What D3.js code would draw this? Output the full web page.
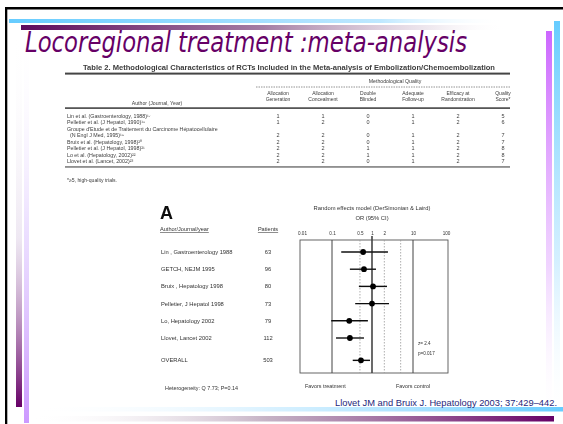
<!DOCTYPE html>
<html><head><meta charset="utf-8">
<script src="https://cdn.jsdelivr.net/npm/d3@7"></script>
<style>html,body{margin:0;padding:0;background:#fff;overflow:hidden}</style>
</head><body>
<script>
// ---------- slide text ----------
const slideTitle = "Locoregional treatment :meta-analysis";
const citation = "Llovet JM and Bruix J. Hepatology 2003; 37:429\u2013442.";

// ---------- methodological quality table ----------
const tableTitle = "Table 2. Methodological Characteristics of RCTs Included in the Meta-analysis of Embolization/Chemoembolization";
const qualityGroup = "Methodological Quality";
const qualityColumns = [["Allocation", "Generation"], ["Allocation", "Concealment"], ["Double", "Blinded"],
  ["Adequate", "Follow-up"], ["Efficacy at", "Randomization"], ["Quality", "Score*"]];
const tableAuthors = [
  ["Lin et al. (Gastroenterology, 1988)\u00b9\u2077"],
  ["Pelletier et al. (J Hepatol, 1990)\u00b9\u2078"],
  ["Groupe d'Etude et de Traitement du Carcinome H\u00e9patocellulaire", "(N Engl J Med, 1995)\u00b9\u2079"],
  ["Bruix et al. (Hepatology, 1998)\u00b2\u2070"],
  ["Pelletier et al. (J Hepatol, 1998)\u00b2\u00b9"],
  ["Lo et al. (Hepatology, 2002)\u00b2\u00b2"],
  ["Llovet et al. (Lancet, 2002)\u00b2\u00b3"]
];
const allocationGeneration = [1, 1, 2, 2, 2, 2, 2];
const allocationConcealment = [1, 2, 2, 2, 2, 2, 2];
const doubleBlinded = [0, 0, 0, 0, 1, 1, 0];
const adequateFollowUp = [1, 1, 1, 1, 1, 1, 1];
const efficacyAtRandomization = [2, 2, 2, 2, 2, 2, 2];
const qualityScore = [5, 6, 7, 7, 8, 8, 7];
const tableFootnote = "*\u22655, high-quality trials.";

// ---------- forest plot ----------
const studies = ["Lin , Gastroenterology 1988", "GETCH, NEJM 1995", "Bruix , Hepatology 1998",
  "Pelletier, J Hepatol 1998", "Lo, Hepatology 2002", "Llovet, Lancet 2002", "OVERALL"];
const patients = [63, 96, 80, 73, 79, 112, 503];
const oddsRatio = [0.60, 0.63, 1.06, 1.00, 0.27, 0.28, 0.53];
const ciLow = [0.17, 0.28, 0.47, 0.38, 0.094, 0.126, 0.33];
const ciHigh = [2.45, 1.25, 2.32, 2.6, 0.79, 0.63, 0.89];
const orTicks = [0.01, 0.1, 0.5, 1, 2, 10, 100];
const solidRefs = [0.1, 1, 10];
const dashedRefs = [0.5, 2, 5];
const modelTitle = ["Random effects model (DerSimonian & Laird)", "OR (95% CI)"];
const testStats = ["z= 2.4", "p=0.017"];
const favours = ["Favors treatment", "Favors control"];
const heterogeneity = "Heterogeneity: Q 7.73; P=0.14";

const W = 563, H = 424;
const svg = d3.select("body").append("svg").attr("width", W).attr("height", H)
  .style("display", "block").style("background", "#fff");
const defs = svg.append("defs");

function grad(id, x2, y2, stops) {
  const g = defs.append("linearGradient").attr("id", id)
    .attr("x1", 0).attr("y1", 0).attr("x2", x2).attr("y2", y2);
  stops.forEach(([o, c, a]) => g.append("stop").attr("offset", o).attr("stop-color", c).attr("stop-opacity", a));
}
grad("gTopBlue", 1, 0, [[0, "#66ccff", 1], [0.75, "#aee2ff", 0.8], [1, "#ffffff", 0]]);
grad("gTopPurple", 1, 0, [[0, "#5c0a5c", 1], [0.5, "#9a6f9a", 0.9], [0.85, "#e6dce6", 0.6], [1, "#ffffff", 0]]);
grad("gBotBlue", 1, 0, [[0, "#ffffff", 0], [0.45, "#bfe8ff", 0.6], [1, "#66ccff", 1]]);
grad("gBotPurple", 1, 0, [[0, "#ffffff", 0], [0.45, "#b7a0b7", 0.8], [1, "#660066", 1]]);
grad("gRightViolet", 0, 1, [[0, "#cc66ff", 1], [0.6, "#e6b8ff", 0.6], [1, "#ffffff", 0]]);
grad("gRightBlue", 0, 1, [[0, "#66ccff", 1], [0.6, "#b8e6ff", 0.6], [1, "#ffffff", 0]]);
grad("gLeftPurple", 0, 1, [[0, "#ffffff", 0], [0.55, "#d6c6e0", 0.4], [1, "#660066", 1]]);
grad("gLeftViolet", 0, 1, [[0, "#ffffff", 0], [0.5, "#e0ccff", 0.6], [1, "#cc99ff", 1]]);

// soft focus of the scanned figures
defs.append("filter").attr("id", "scan").attr("x", "-5%").attr("y", "-5%").attr("width", "110%").attr("height", "110%")
  .append("feGaussianBlur").attr("stdDeviation", 0.6);

// ---------- slide frame and decorative bars ----------
svg.append("rect").attr("x", 5).attr("y", 7).attr("width", W - 5).attr("height", 2.5).attr("fill", "#000");
svg.append("rect").attr("x", 5).attr("y", 7).attr("width", 2.3).attr("height", H - 7).attr("fill", "#000");
svg.append("rect").attr("x", 9).attr("y", 19).attr("width", 495).attr("height", 4).attr("fill", "url(#gTopBlue)");
svg.append("rect").attr("x", 21).attr("y", 25).attr("width", 485).attr("height", 5).attr("fill", "url(#gTopPurple)");
svg.append("rect").attr("x", 546).attr("y", 31).attr("width", 6).attr("height", H - 31).attr("fill", "url(#gRightViolet)");
svg.append("rect").attr("x", 554).attr("y", 21).attr("width", 6).attr("height", H - 21).attr("fill", "url(#gRightBlue)");
svg.append("rect").attr("x", 16).attr("y", 30).attr("width", 6).attr("height", 377).attr("fill", "url(#gLeftPurple)");
svg.append("rect").attr("x", 24).attr("y", 30).attr("width", 5).attr("height", 393).attr("fill", "url(#gLeftViolet)");
svg.append("rect").attr("x", 30).attr("y", 407).attr("width", W - 30).attr("height", 4.5).attr("fill", "url(#gBotBlue)");
svg.append("rect").attr("x", 30).attr("y", 416).attr("width", 524).attr("height", 5.5).attr("fill", "url(#gBotPurple)");

// ---------- title ----------
svg.append("text").attr("x", 25).attr("y", 52)
  .attr("font-family", "'DejaVu Sans', Verdana, sans-serif").attr("font-style", "italic")
  .attr("font-size", 27.5).attr("fill", "#660066")
  .attr("textLength", 442).attr("lengthAdjust", "spacingAndGlyphs")
  .text(slideTitle);

// ---------- table ----------
const tbl = svg.append("g").attr("filter", "url(#scan)")
  .attr("font-family", "'Liberation Sans', Arial, sans-serif").attr("fill", "#3c3c3c");
const tblLeft = 65, tblRight = 510;
tbl.append("text").attr("x", 83).attr("y", 70).attr("font-size", 6.3).attr("font-weight", "bold")
  .attr("textLength", 412).attr("lengthAdjust", "spacingAndGlyphs").text(tableTitle);
tbl.append("rect").attr("x", tblLeft).attr("y", 72.6).attr("width", tblRight - tblLeft).attr("height", 2).attr("fill", "#444");
tbl.append("text").attr("x", 395).attr("y", 82.5).attr("font-size", 5.2).attr("text-anchor", "middle").text(qualityGroup);
tbl.append("line").attr("x1", 256).attr("x2", tblRight).attr("y1", 87).attr("y2", 87)
  .attr("stroke", "#777").attr("stroke-width", 0.8).attr("stroke-dasharray", "1.5,1");

const colX = d3.scalePoint().domain(d3.range(qualityColumns.length)).range([278, 503]);
qualityColumns.forEach((lines, i) => {
  lines.forEach((t, j) => tbl.append("text").attr("x", colX(i)).attr("y", 95 + j * 5.5)
    .attr("font-size", 5).attr("text-anchor", "middle").text(t));
});
tbl.append("text").attr("x", 157).attr("y", 104.5).attr("font-size", 5.2).attr("text-anchor", "middle")
  .text("Author (Journal, Year)");
tbl.append("rect").attr("x", tblLeft).attr("y", 107.3).attr("width", tblRight - tblLeft).attr("height", 1.6).attr("fill", "#444");

const qualityValues = [allocationGeneration, allocationConcealment, doubleBlinded, adequateFollowUp,
  efficacyAtRandomization, qualityScore];
const lineStep = 6.55;
let lineIdx = 0;
tableAuthors.forEach((lines, r) => {
  lines.forEach((t, j) => tbl.append("text").attr("x", 67 + (j > 0 ? 3 : 0)).attr("y", 117.5 + (lineIdx + j) * lineStep)
    .attr("font-size", 5.3).text(t));
  const yv = 117.5 + (lineIdx + lines.length - 1) * lineStep;
  qualityValues.forEach((vals, c) => tbl.append("text").attr("x", colX(c)).attr("y", yv)
    .attr("font-size", 5.5).attr("text-anchor", "middle").text(vals[r]));
  lineIdx += lines.length;
});
tbl.append("rect").attr("x", tblLeft).attr("y", 117.5 + (lineIdx - 1) * lineStep + 3)
  .attr("width", tblRight - tblLeft).attr("height", 1.2).attr("fill", "#555");
tbl.append("text").attr("x", 67).attr("y", 182).attr("font-size", 5.1).text(tableFootnote);

// ---------- forest plot ----------
const fp = svg.append("g").attr("filter", "url(#scan)")
  .attr("font-family", "'Liberation Sans', Arial, sans-serif").attr("fill", "#333");

const x = d3.scaleLog().domain([0.01, 0.1, 1, 10, 100]).range([302, 332, 372, 413, 446]);
const rowPos = studies.map((s, i) => i < studies.length - 1 ? i : i + 0.3);
const y = d3.scaleLinear().domain([0, 5]).range([252, 338]);

fp.append("text").attr("x", 160).attr("y", 218.5).attr("font-size", 18).attr("font-weight", "bold")
  .attr("fill", "#111").text("A");
fp.append("text").attr("x", 160).attr("y", 231).attr("font-size", 5.6).attr("text-decoration", "underline")
  .text("Author/Journal/year");
fp.append("text").attr("x", 268).attr("y", 231).attr("font-size", 5.6).attr("text-anchor", "middle")
  .attr("text-decoration", "underline").text("Patients");

studies.forEach((s, i) => {
  fp.append("text").attr("x", 161).attr("y", y(rowPos[i]) + 2).attr("font-size", 5.8).text(s);
  fp.append("text").attr("x", 268).attr("y", y(rowPos[i]) + 2).attr("font-size", 5.8)
    .attr("text-anchor", "middle").text(patients[i]);
});

modelTitle.forEach((t, i) => fp.append("text").attr("x", 372).attr("y", 210 + i * 10)
  .attr("font-size", 5.8).attr("text-anchor", "middle").text(t));

const boxTop = 240, boxBottom = 373;
const axis = d3.axisTop(x).tickValues(orTicks).tickSize(0).tickPadding(0).tickFormat(d => String(d));
const axG = fp.append("g").attr("transform", `translate(0,${boxTop - 5})`).call(axis);
axG.select(".domain").remove();
axG.selectAll("text").attr("font-size", 4.6).attr("fill", "#333")
  .attr("font-family", "'Liberation Sans', Arial, sans-serif");

fp.append("rect").attr("x", x(0.01) - 2).attr("y", boxTop).attr("width", x(100) + 2 - (x(0.01) - 2))
  .attr("height", boxBottom - boxTop).attr("fill", "none").attr("stroke", "#555").attr("stroke-width", 0.9);

dashedRefs.forEach(v => fp.append("line").attr("x1", x(v)).attr("x2", x(v)).attr("y1", boxTop).attr("y2", boxBottom)
  .attr("stroke", "#999").attr("stroke-width", 0.8).attr("stroke-dasharray", "1.5,1.5"));
solidRefs.forEach(v => fp.append("line").attr("x1", x(v)).attr("x2", x(v))
  .attr("y1", v === 1 ? boxTop - 4 : boxTop).attr("y2", boxBottom)
  .attr("stroke", "#444").attr("stroke-width", v === 1 ? 1.6 : 1));

studies.forEach((s, i) => {
  const yy = y(rowPos[i]);
  fp.append("line").attr("x1", x(ciLow[i])).attr("x2", x(ciHigh[i])).attr("y1", yy).attr("y2", yy)
    .attr("stroke", "#111").attr("stroke-width", 1.4);
  fp.append("circle").attr("cx", x(oddsRatio[i])).attr("cy", yy).attr("r", 2.9).attr("fill", "#000");
});

testStats.forEach((t, i) => fp.append("text").attr("x", 418).attr("y", 345 + i * 10)
  .attr("font-size", 4.6).text(t));
fp.append("text").attr("x", 305).attr("y", 387.5).attr("font-size", 5.4).text(favours[0]);
fp.append("text").attr("x", 396).attr("y", 387.5).attr("font-size", 5.4).text(favours[1]);
fp.append("text").attr("x", 165).attr("y", 389.5).attr("font-size", 5.4).text(heterogeneity);

// ---------- citation ----------
svg.append("text").attr("x", 335).attr("y", 405.5)
  .attr("font-family", "'Liberation Sans', Arial, sans-serif").attr("font-size", 9.2).attr("fill", "#1f1f7a")
  .attr("textLength", 222).attr("lengthAdjust", "spacingAndGlyphs").text(citation);
</script>
</body></html>
